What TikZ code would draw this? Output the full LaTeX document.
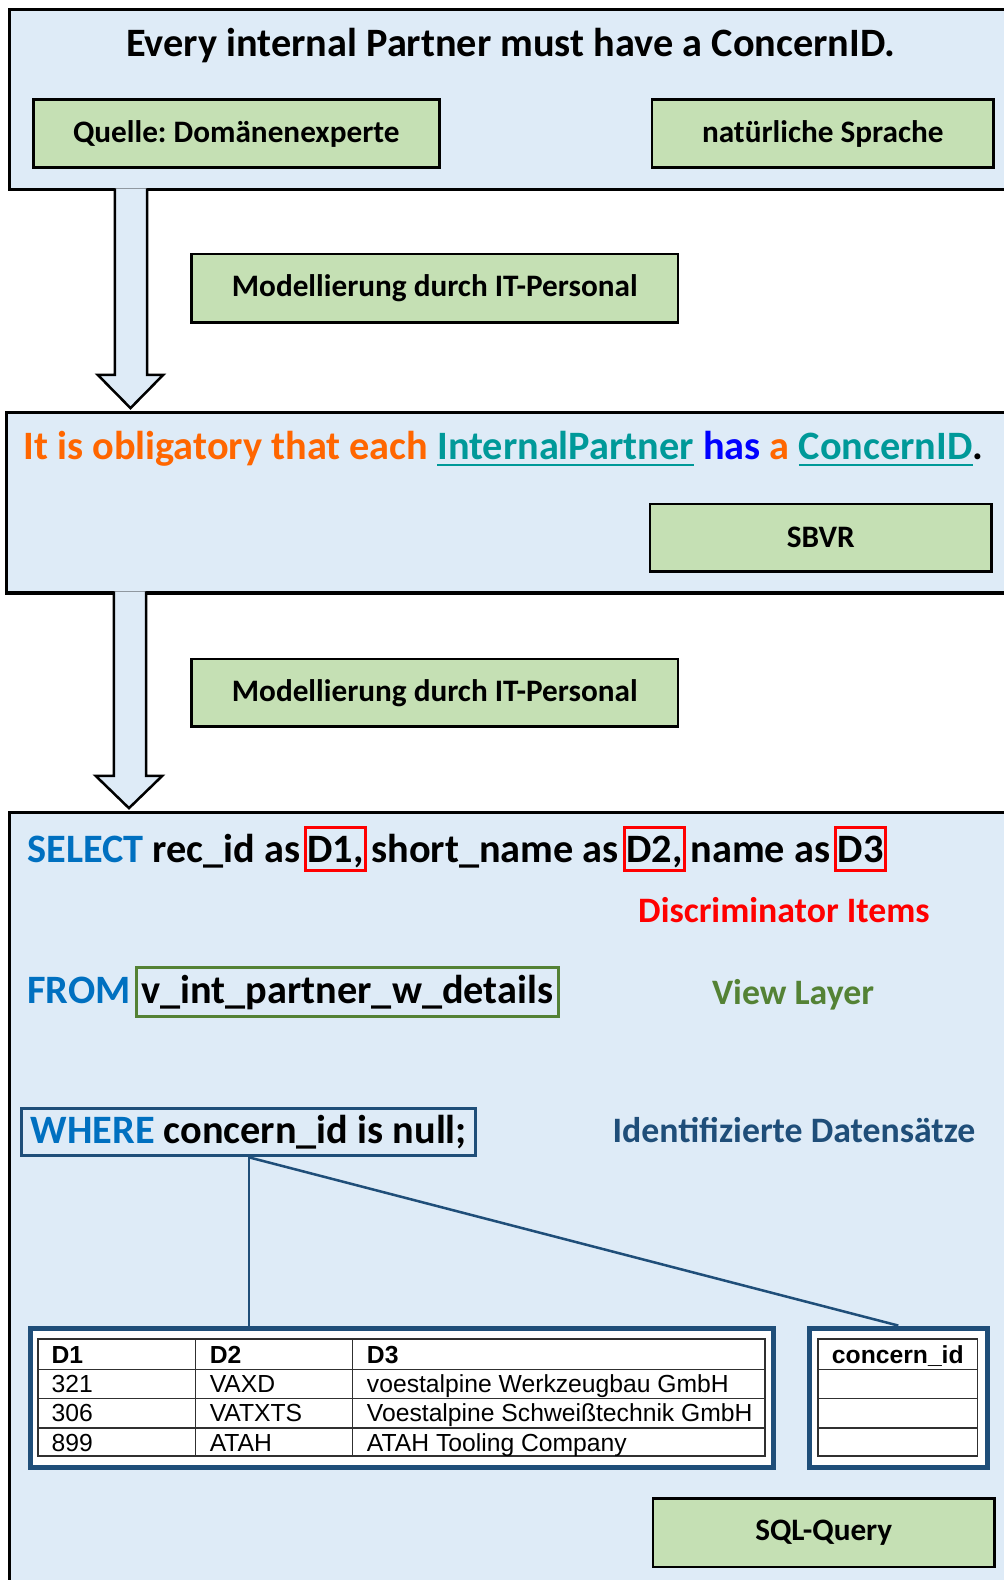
\documentclass[tikz,border=0pt]{standalone}
\usepackage{fontspec}
\setmainfont{Carlito}
\newfontfamily\tablefont{Liberation Sans}
\usetikzlibrary{calc}
\frenchspacing

% underlined word in the current colour
\newcommand\ulword[1]{\setbox0\hbox{#1}\rlap{\rule[-6.5pt]{\wd0}{2.5pt}}\box0}

\definecolor{panel}{HTML}{DEEBF7}
\definecolor{leaf}{HTML}{C5E0B4}
\definecolor{ruleorange}{HTML}{FF6600}
\definecolor{ruleteal}{HTML}{009999}
\definecolor{ruleblue}{HTML}{0000FF}
\definecolor{sqlblue}{HTML}{0070C0}
\definecolor{viewgreen}{HTML}{548235}
\definecolor{navy}{HTML}{1F4E79}
\definecolor{gridgray}{HTML}{303030}

\tikzset{
  panelbox/.style={draw=black, line width=3pt, fill=panel, inner sep=0pt},
  gbox/.style={draw=black, line width=2.5pt, fill=leaf, inner sep=0pt,
    font=\bfseries\fontsize{31}{34}\selectfont},
  blockarrow/.style={draw=black, line width=2.5pt, fill=panel, line join=miter},
  titletext/.style={inner sep=0pt, font=\bfseries\fontsize{40}{44}\selectfont},
  sqltext/.style={inner sep=0pt, font=\bfseries\fontsize{40}{44}\selectfont},
  redbox/.style={sqltext, draw=red, line width=3pt, inner xsep=2pt, inner ysep=0pt,
    text height=34.5pt, text depth=7.5pt},
  viewbox/.style={sqltext, draw=viewgreen, line width=3pt, inner xsep=5pt, inner ysep=0pt,
    text height=35.5pt, text depth=12.5pt},
  wherebox/.style={sqltext, draw=navy, line width=3pt, inner xsep=9pt, inner ysep=0pt,
    text height=35pt, text depth=12pt},
  labeltext/.style={inner sep=0pt, font=\bfseries\fontsize{35.5}{40}\selectfont},
  tableframe/.style={draw=navy, line width=5pt, fill=white, inner sep=0pt},
  grid/.style={draw=gridgray, line width=1.6pt},
  cell/.style={inner sep=0pt, anchor=base west, font=\tablefont\fontsize{24.5}{28}\selectfont},
  headcell/.style={cell, font=\tablefont\bfseries\fontsize{24.5}{28}\selectfont},
  link/.style={draw=navy, line width=2.5pt}
}

\begin{document}
\begin{tikzpicture}[x=1pt,y=-1pt]
\useasboundingbox (0,0) rectangle (996,1568);
\fill[white] (0,0) rectangle (996,1568);

% natural-language statement
\node[panelbox, anchor=north west, minimum width=1000pt, minimum height=179pt] (p1) at (8,8) {};
\node[titletext, anchor=base] (t1) at (507,56) {Every internal Partner must have a ConcernID.};
\node[gbox, minimum width=403pt, minimum height=67pt] (src) at (234.5,132.5) {Quelle: Domänenexperte};
\node[gbox, minimum width=339pt, minimum height=67pt] (nat) at (816.5,132.5) {natürliche Sprache};

% first modelling step
\draw[blockarrow] (114,187) -- (114,372) -- (97,372) -- (129.5,405) -- (162,372) -- (146,372) -- (146,187);
\node[gbox, minimum width=483pt, minimum height=68pt] (mod1) at (431.5,286) {Modellierung durch IT-Personal};

% SBVR rule
\node[panelbox, anchor=north west, minimum width=1000pt, minimum height=179pt] (p2) at (5,408) {};
\node[titletext, anchor=base west] (rule) at (23,456)
  {{\color{ruleorange}It is obligatory that each} {\color{ruleteal}\ulword{InternalPartner}} {\color{ruleblue}has} {\color{ruleorange}a} {\color{ruleteal}\ulword{ConcernID}}.};
\node[gbox, minimum width=339pt, minimum height=67pt] (sbvr) at (814.5,533.5) {SBVR};

% second modelling step
\draw[blockarrow] (113,587) -- (113,770) -- (95,770) -- (128,802) -- (161,770) -- (145,770) -- (145,587);
\node[gbox, minimum width=483pt, minimum height=67pt] (mod2) at (431.5,687.5) {Modellierung durch IT-Personal};

% SQL query
\node[panelbox, anchor=north west, minimum width=1000pt, minimum height=800pt] (p3) at (8,805) {};

\node[sqltext, anchor=base west] (sel) at (27,856) {{\color{sqlblue}SELECT} rec\_id as};
\node[redbox, anchor=base west] (d1) at ($(sel.base east)+(3,0)$) {D1,};
\node[sqltext, anchor=base west] (sel2) at ($(d1.base east)+(4,0)$) {short\_name as};
\node[redbox, anchor=base west] (d2) at ($(sel2.base east)+(4,0)$) {D2,};
\node[sqltext, anchor=base west] (sel3) at ($(d2.base east)+(4,0)$) {name as};
\node[redbox, anchor=base west] (d3) at ($(sel3.base east)+(4,0)$) {D3};
\node[labeltext, anchor=base, text=red] (disc) at (778,915) {Discriminator Items};

\node[sqltext, anchor=base west, text=sqlblue] (from) at (27,996) {FROM};
\node[viewbox, anchor=base west] (view) at ($(from.base east)+(4,0)$) {v\_int\_partner\_w\_details};
\node[labeltext, anchor=base, text=viewgreen] (vlabel) at (787,997) {View Layer};

\node[wherebox, anchor=base west] (where) at (20,1135) {{\color{sqlblue}WHERE} concern\_id is null;};
\node[labeltext, anchor=base, text=navy] (idlabel) at (788,1134) {Identifizierte Datensätze};

% result tables
\node[tableframe, minimum width=738pt, minimum height=138pt] (tab1) at (399,1387) {};
\node[tableframe, minimum width=177pt, minimum height=138pt] (tab2) at (891.5,1387) {};
\draw[link] (where.south) -- (where.south |- tab1.north);
\draw[link] (where.south) -- (tab2.north);

\draw[grid] (38,1329) rectangle (759,1445);
\foreach \yy in {1359,1388,1417} \draw[grid] (38,\yy) -- (759,\yy);
\foreach \xx in {194,350} \draw[grid] (\xx,1329) -- (\xx,1445);
\draw[grid] (812,1329) rectangle (970,1445);
\foreach \yy in {1359,1388,1417} \draw[grid] (812,\yy) -- (970,\yy);

\node[headcell] (h1) at (51,1353) {D1};
\node[headcell] (h2) at (208,1353) {D2};
\node[headcell] (h3) at (364,1353) {D3};
\node[cell] (a1) at (51,1382) {321};
\node[cell] (a2) at (208,1382) {VAXD};
\node[cell] (a3) at (364,1382) {voestalpine Werkzeugbau GmbH};
\node[cell] (b1) at (51,1411) {306};
\node[cell] (b2) at (208,1411) {VATXTS};
\node[cell] (b3) at (364,1411) {Voestalpine Schweißtechnik GmbH};
\node[cell] (c1) at (51,1440) {899};
\node[cell] (c2) at (208,1440) {ATAH};
\node[cell] (c3) at (364,1440) {ATAH Tooling Company};
\node[headcell, anchor=base] (hc) at (891,1353) {concern\_id};

\node[gbox, minimum width=339pt, minimum height=68pt] (sql) at (817.5,1521) {SQL-Query};
\end{tikzpicture}
\end{document}
